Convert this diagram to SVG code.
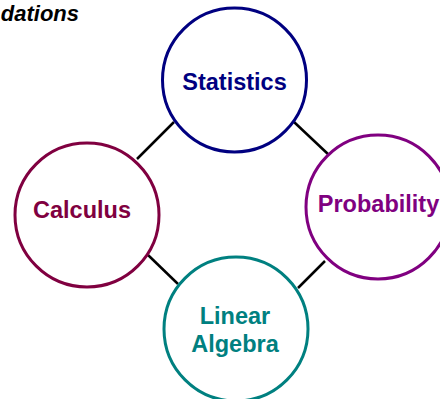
<svg xmlns="http://www.w3.org/2000/svg" width="440" height="399" viewBox="0 0 440 399">
<style>
.node{fill:#ffffff;stroke-width:3}
.lbl{font-family:"Liberation Sans",Arial,sans-serif;font-weight:bold;font-size:23.5px;text-anchor:middle}
.edge{stroke:#000000;stroke-width:2.5;fill:none}
</style>
<rect width="440" height="399" fill="#ffffff"/>
<text x="79" y="21" font-family="Liberation Sans, Arial, sans-serif" font-weight="bold" font-style="italic" font-size="22" text-anchor="end" fill="#000000">dations</text>
<g id="connectors">
<line class="edge" x1="137" y1="159" x2="174" y2="122"/>
<line class="edge" x1="294" y1="122" x2="329" y2="155"/>
<line class="edge" x1="148" y1="255" x2="178" y2="284"/>
<line class="edge" x1="325" y1="261" x2="298" y2="288"/>
</g>
<g id="statistics">
<circle class="node" cx="234.5" cy="80" r="72" stroke="#000080"/>
<text class="lbl" x="234.5" y="90" fill="#000080">Statistics</text>
</g>
<g id="calculus">
<circle class="node" cx="87" cy="215" r="72" stroke="#800040"/>
<text class="lbl" x="82" y="217.5" fill="#800040">Calculus</text>
</g>
<g id="probability">
<circle class="node" cx="378" cy="207" r="72" stroke="#800080"/>
<text class="lbl" x="378.5" y="212" fill="#800080">Probability</text>
</g>
<g id="linear-algebra">
<circle class="node" cx="236" cy="329" r="72" stroke="#008080"/>
<text class="lbl" x="235" y="324" fill="#008080">Linear</text>
<text class="lbl" x="235" y="351.5" fill="#008080">Algebra</text>
</g>
</svg>
